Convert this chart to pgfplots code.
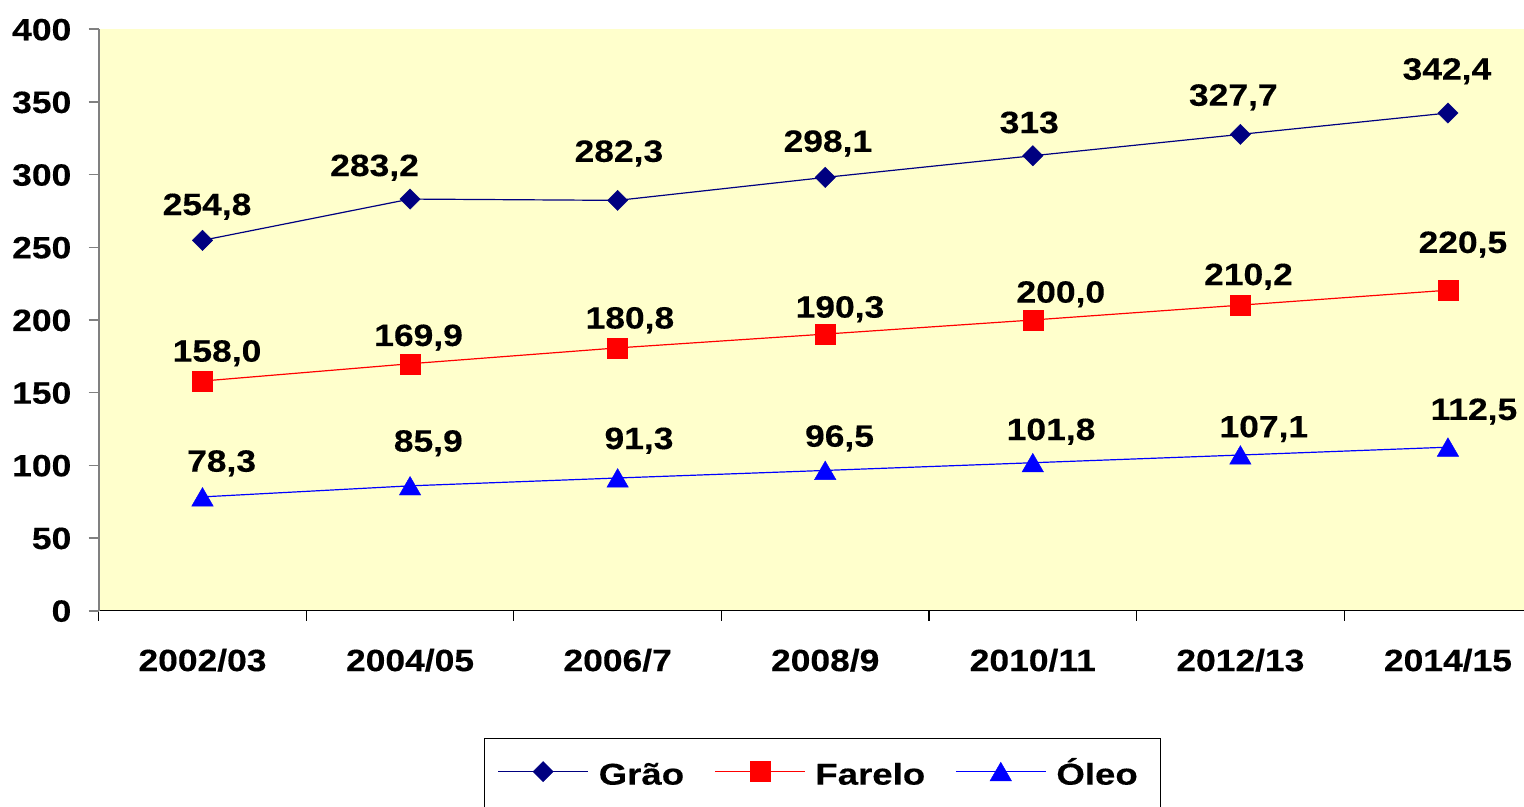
\documentclass[border=0pt]{standalone}
\usepackage{fontspec}
\setmainfont{Liberation Sans}[FakeStretch=1.15, BoldFeatures={FakeBold=0.3}]
\newfontfamily\legfont{Liberation Sans}[FakeStretch=1.22, BoldFeatures={FakeBold=0.3}]
\usepackage{pgfplots}
\pgfplotsset{compat=1.18}
\definecolor{bgyellow}{HTML}{FFFFCC}
\definecolor{grao}{HTML}{000080}
\definecolor{farelo}{HTML}{FF0000}
\definecolor{oleo}{HTML}{0000FF}
\definecolor{axgray}{HTML}{808080}
\newcommand{\lblfont}{\fontsize{15.4}{18}\selectfont\bfseries}
\begin{document}
\begin{tikzpicture}
\begin{axis}[
  scale only axis, width=712.6pt, height=290.7pt,
  at={(0,0)}, anchor=south west,
  xmin=-0.5, xmax=6.366, ymin=0, ymax=400,
  clip=false,
  axis x line*=bottom, axis y line*=left,
  axis background/.style={fill=bgyellow},
  x axis line style={black, line width=0.6pt},
  y axis line style={axgray, line width=0.8pt},
  tick align=outside,
  major tick length=5pt, minor tick length=5pt,
  xtick={0,...,6},
  xticklabels={2002/03,2004/05,2006/7,2008/9,2010/11,2012/13,2014/15},
  every major x tick/.append style={draw=none},
  minor xtick={-0.5,0.5,1.5,2.5,3.5,4.5,5.5},
  every minor x tick/.append style={black, line width=0.6pt},
  ytick={0,50,...,400},
  every major y tick/.append style={axgray, line width=0.8pt},
  /pgf/number format/assume math mode=true,
  tick label style={font=\lblfont, black},
  yticklabel style={anchor=east, inner sep=0pt, text height=11pt, text depth=0pt, xshift=-8.5pt},
  xticklabel style={anchor=north, inner sep=0pt, text height=11pt, text depth=0pt, yshift=-14pt},
  legend columns=3,
  legend style={at={(0.2703,-0.219)}, anchor=north west, draw=black, line width=0.6pt,
    fill=white, inner xsep=6.5pt, inner ysep=8.3pt,
    font=\legfont\bfseries\fontsize{15}{17}\selectfont,
    cells={anchor=base west},
    nodes={inner xsep=5pt, inner ysep=4pt, text height=10.7pt, text depth=30pt},
    /tikz/every even column/.append style={column sep=10pt}},
  legend image code/.code={\draw[mark repeat=2, mark phase=2, line width=0.6pt]
    plot coordinates {(0pt,6.5pt)(22.5pt,6.5pt)(45pt,6.5pt)};},
]
\addplot[grao, line width=0.6pt, mark=square*, mark size=3.6pt,
  mark options={rotate=45, fill=grao, draw=grao, line width=0.2pt}]
  coordinates {(0,254.8)(1,283.2)(2,282.3)(3,298.1)(4,313)(5,327.7)(6,342.4)};
\addlegendentry{Grão}
\addplot[farelo, line width=0.6pt, mark=square*, mark size=5pt,
  mark options={fill=farelo, draw=farelo, line width=0.2pt}]
  coordinates {(0,158.0)(1,169.9)(2,180.8)(3,190.3)(4,200.0)(5,210.2)(6,220.5)};
\addlegendentry{Farelo}
\addplot[oleo, line width=0.6pt, mark=triangle*, mark size=6.2pt,
  mark options={yshift=-1.5pt, fill=oleo, draw=oleo, line width=0.2pt}]
  coordinates {(0,78.3)(1,85.9)(2,91.3)(3,96.5)(4,101.8)(5,107.1)(6,112.5)};
\addlegendentry{Óleo}
% data labels
\addplot[forget plot, draw=none, mark=none, nodes near coords, point meta=explicit symbolic,
  every node near coord/.append style={anchor=center, inner sep=0pt, font=\lblfont,
    text=black, text height=11pt, text depth=0pt}]
  coordinates {
  (0.022,279.8) [254,8] (0.829,306.6) [283,2] (2.006,316.4) [282,3] (3.013,323.3) [298,1]
  (3.983,336.2) [313] (4.966,355.0) [327,7] (5.995,372.9) [342,4]
  (0.070,178.9) [158,0] (1.041,189.7) [169,9] (2.059,201.7) [180,8] (3.071,209.2) [190,3]
  (4.135,219.5) [200,0] (5.039,231.6) [210,2] (6.072,253.7) [220,5]
  (0.092,103.2) [78,3] (1.088,117.0) [85,9] (2.103,118.8) [91,3] (3.069,120.4) [96,5]
  (4.088,125.0) [101,8] (5.113,126.9) [107,1] (6.125,138.8) [112,5]
  };
\end{axis}
\pgfresetboundingbox
\useasboundingbox (-49.35pt,-98.15pt) rectangle (712.65pt,305.35pt);
\end{tikzpicture}
\end{document}
